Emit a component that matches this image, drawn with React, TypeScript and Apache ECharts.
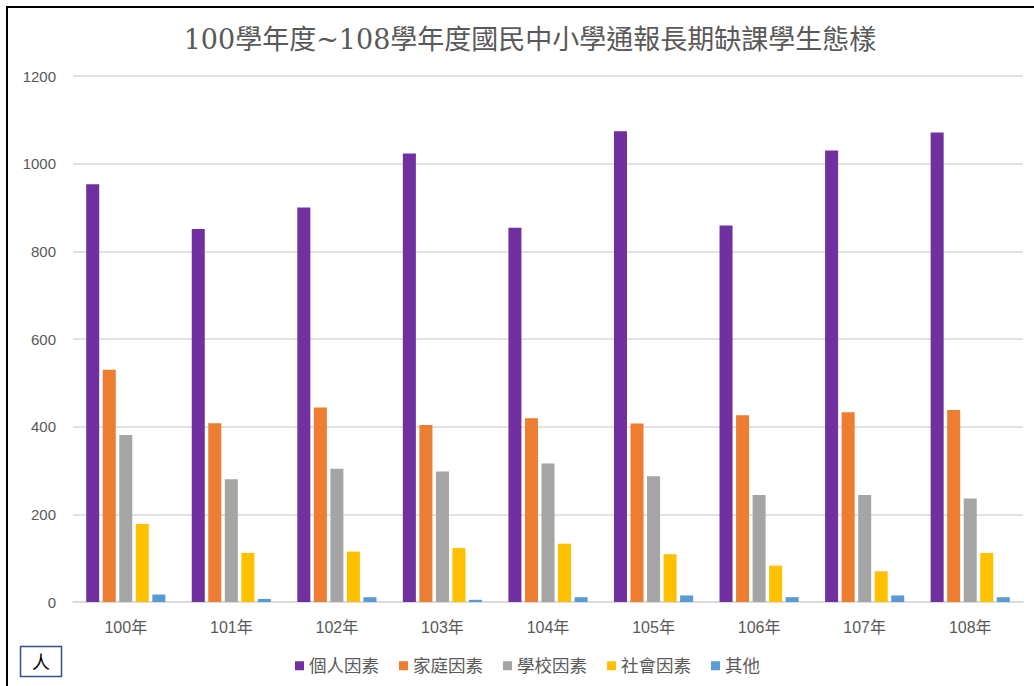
import React, { useEffect, useRef } from "react";
import * as echarts from "echarts";

const categories = ["100年", "101年", "102年", "103年", "104年", "105年", "106年", "107年", "108年"];
const personal = [953, 851, 900, 1023, 854, 1074, 859, 1030, 1071];
const family = [530, 408, 444, 404, 419, 407, 426, 433, 438];
const school = [381, 280, 304, 298, 316, 287, 244, 244, 236];
const social = [178, 112, 115, 123, 133, 109, 83, 70, 112];
const other = [17, 7, 11, 5, 11, 15, 11, 15, 11];

const seriesNames = ["個人因素", "家庭因素", "學校因素", "社會因素", "其他"];
const seriesColors = ["#7030A0", "#ED7D31", "#A5A5A5", "#FFC000", "#5B9BD5"];
const seriesData = [personal, family, school, social, other];

const FONT = "'Liberation Sans', 'Noto Sans CJK TC', sans-serif";

export default function App() {
  const ref = useRef<HTMLDivElement>(null);
  useEffect(() => {
    if (!ref.current) return;
    const chart = echarts.init(ref.current, null, { renderer: "svg" });
    chart.setOption({
      animation: false,
      backgroundColor: "#ffffff",
      title: {
        text: "100學年度~108學年度國民中小學通報長期缺課學生態樣",
        left: 525,
        textAlign: "center",
        top: 21,
        textStyle: {
          fontFamily: "'DejaVu Serif', 'Noto Sans CJK TC', serif",
          fontSize: 27,
          fontWeight: "normal",
          color: "#595959",
        },
      },
      grid: { left: 73, right: 11, top: 76, bottom: 84, containLabel: false },
      legend: {
        left: 290,
        top: 652,
        itemWidth: 9,
        itemHeight: 9,
        itemGap: 20,
        icon: "rect",
        textStyle: { fontFamily: FONT, fontSize: 17.5, color: "#595959" },
        data: seriesNames,
      },
      xAxis: {
        type: "category",
        data: categories,
        axisTick: { show: false },
        axisLine: { lineStyle: { color: "#d9d9d9", width: 1.5 } },
        axisLabel: { fontFamily: FONT, fontSize: 16, color: "#595959", margin: 17 },
      },
      yAxis: {
        type: "value",
        min: 0,
        max: 1200,
        interval: 200,
        axisLine: { show: false },
        axisTick: { show: false },
        splitLine: { lineStyle: { color: "#d9d9d9", width: 1.5 } },
        axisLabel: {
          fontFamily: FONT,
          fontSize: 15,
          color: "#595959",
          margin: 17,
          formatter: (v: number) => String(v),
        },
      },
      series: seriesData.map((d, i) => ({
        name: seriesNames[i],
        type: "bar",
        data: d,
        barGap: "27%",
        barCategoryGap: "25%",
        itemStyle: { color: seriesColors[i] },
      })),
      graphic: [
        { type: "rect", shape: { x: 6, y: 6, width: 2, height: 680 }, style: { fill: "#000" } },
        { type: "rect", shape: { x: 6, y: 6, width: 1028, height: 2 }, style: { fill: "#000" } },
        {
          type: "rect",
          shape: { x: 20.5, y: 646.5, width: 41, height: 30 },
          style: { fill: "#fff", stroke: "#2F528F", lineWidth: 1.5 },
        },
        {
          type: "text",
          x: 41,
          y: 661,
          style: {
            text: "人",
            fontFamily: "'Noto Sans CJK TC', sans-serif",
            fontSize: 18,
            fill: "#000",
            align: "center",
            verticalAlign: "middle",
          },
        },
      ],
    });
    return () => chart.dispose();
  }, []);
  return (
    <div style={{ position: "fixed", left: 0, top: 0, width: 1034, height: 686, background: "#fff" }}>
      <div ref={ref} style={{ width: 1034, height: 686 }} />
    </div>
  );
}
